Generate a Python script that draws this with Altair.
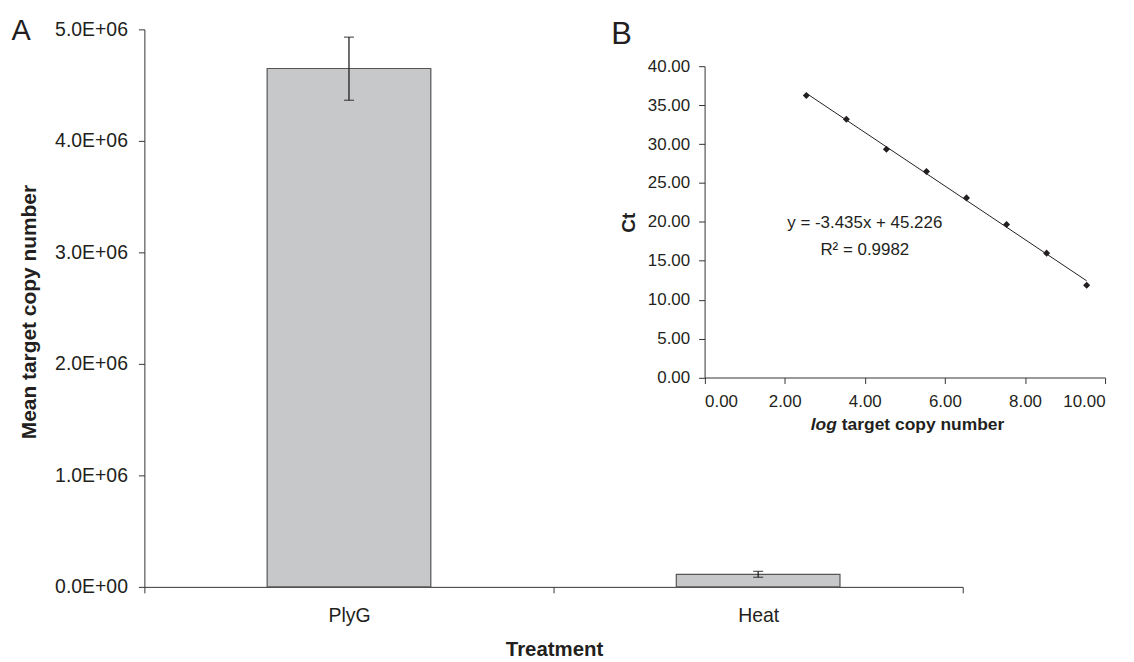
import altair as alt
import pandas as pd

# ---------------- data ----------------
treatments = ["PlyG", "Heat"]
mean_copies = [4.649e6, 1.12e5]
err_low = [4.364e6, 0.86e5]
err_high = [4.930e6, 1.39e5]

log_copies = [2.54, 3.54, 4.54, 5.54, 6.54, 7.54, 8.54, 9.54]
ct_values = [36.24, 33.17, 29.34, 26.47, 23.08, 19.65, 15.98, 11.85]

eq_lines = ["y = -3.435x + 45.226", "R\u00b2 = 0.9982"]
eq_x = [4.0, 4.0]
eq_y = [19.82, 16.42]

FONT = "Liberation Sans"
INK = "#231f20"
AXC = "#333333"
W, H = 822, 560

dfA = pd.DataFrame({"Treatment": treatments, "mean": mean_copies,
                    "lo": err_low, "hi": err_high})
caps = pd.DataFrame({"Treatment": treatments * 2, "v": err_low + err_high})
dfB = pd.DataFrame({"x": log_copies, "y": ct_values})
dfEq = pd.DataFrame({"t": eq_lines, "ex": eq_x, "ey": eq_y})

# ---------------- panel A ----------------
axA_x = alt.Axis(title="Treatment", tickBand="extent", labelAngle=0, grid=False,
                 tickSize=6, labelPadding=14, labelFontSize=19.5,
                 titleFontSize=20.5, titleFontWeight="bold",
                 titleX=411.5, titleY=69, titleBaseline="alphabetic")
scA_x = alt.Scale(paddingInner=0, paddingOuter=0)
axA_y = alt.Axis(title="Mean target copy number", values=[0, 1e6, 2e6, 3e6, 4e6, 5e6],
                 labelExpr="replace(format(datum.value, '.1e'), 'e+', 'E+0')",
                 grid=False, tickSize=6, labelPadding=11, labelFontSize=19.5,
                 titleFontSize=21, titleFontWeight="bold", titleAngle=270,
                 titleX=-109, titleY=283.5, titleAlign="center",
                 titleBaseline="alphabetic")
scA_y = alt.Scale(domain=[0, 5e6], nice=False, zero=True)


def xA():
    return alt.X("Treatment:N", sort=treatments, scale=scA_x, axis=axA_x)


def yA(field):
    return alt.Y(field, scale=scA_y, axis=axA_y)


bars = alt.Chart(dfA).mark_bar(fill="#c7c8ca", stroke="#555555", strokeWidth=1.2,
                               width={"band": 0.4}).encode(x=xA(), y=yA("mean:Q"))
err = alt.Chart(dfA).mark_rule(color=INK, strokeWidth=1.3).encode(
    x=xA(), y=yA("lo:Q"), y2="hi:Q")
err_caps = alt.Chart(caps).mark_tick(color=INK, size=10, thickness=1.3,
                                     orient="horizontal").encode(x=xA(), y=yA("v:Q"))
layerA = alt.layer(bars, err, err_caps)

# ---------------- panel B (inset) ----------------
scB_x = alt.Scale(domain=[0, 10], nice=False, zero=False, range=[562.7, 965])
scB_y = alt.Scale(domain=[0, 40], nice=False, zero=False, range=[349.7, 37])
axB_x = alt.Axis(orient="bottom", offset=-210.3, values=[0, 2, 4, 6, 8, 10], format=".2f",
                 title=None, grid=False, tickSize=6, labelPadding=10, labelFontSize=17)
axB_y = alt.Axis(orient="left", offset=-562.7, values=[0, 5, 10, 15, 20, 25, 30, 35, 40],
                 format=".2f", title="Ct", grid=False, tickSize=6, labelPadding=9,
                 labelFontSize=17, titleFontSize=19, titleFontWeight="bold",
                 titleAngle=270, titleX=-70.7, titleY=193.7, titleAlign="center",
                 titleBaseline="alphabetic")


def xB(field):
    return alt.X(field, scale=scB_x, axis=axB_x)


def yB(field):
    return alt.Y(field, scale=scB_y, axis=axB_y)


pts = alt.Chart(dfB).mark_point(shape="diamond", filled=True, size=50, color=INK,
                                opacity=1).encode(x=xB("x:Q"), y=yB("y:Q"))
fit = alt.Chart(dfB).transform_regression("x", "y").mark_line(
    color=INK, strokeWidth=1).encode(x=xB("x:Q"), y=yB("y:Q"))
eq = alt.Chart(dfEq).mark_text(fontSize=17, color=INK, align="center",
                               baseline="middle").encode(
    x=xB("ex:Q"), y=yB("ey:Q"), text="t:N")

tl = pd.DataFrame({"t": ["log"]})
tr = pd.DataFrame({"t": ["target copy number"]})
title_log = alt.Chart(tl).mark_text(fontSize=17.5, fontWeight="bold", fontStyle="italic",
                                    color=INK, align="right", baseline="alphabetic").encode(
    text="t:N", x=alt.value(695.5), y=alt.value(402.7))
title_rest = alt.Chart(tr).mark_text(fontSize=17.5, fontWeight="bold", color=INK,
                                     align="left", baseline="alphabetic").encode(
    text="t:N", x=alt.value(700.5), y=alt.value(402.7))

lab_a = alt.Chart(pd.DataFrame({"t": ["A"]})).mark_text(
    fontSize=29, color=INK, align="left", baseline="alphabetic").encode(
    text="t:N", x=alt.value(-133.5), y=alt.value(10.3))
lab_b = alt.Chart(pd.DataFrame({"t": ["B"]})).mark_text(
    fontSize=31, color=INK, align="left", baseline="alphabetic").encode(
    text="t:N", x=alt.value(469), y=alt.value(14.5))

layerB = alt.layer(fit, pts, eq, title_log, title_rest, lab_a, lab_b)

chart = alt.layer(layerA, layerB).resolve_scale(
    x="independent", y="independent"
).properties(
    width=W, height=H, autosize="none",
    padding={"left": 137, "top": 20, "right": 164, "bottom": 72},
    background="white",
).configure_view(stroke=None).configure_axis(
    labelFont=FONT, titleFont=FONT, labelColor=INK, titleColor=INK,
    domainColor=AXC, tickColor=AXC, domainWidth=1, tickWidth=1,
).configure_text(font=FONT)

chart.save("out.html", embed_options={"renderer": "svg", "actions": False})
